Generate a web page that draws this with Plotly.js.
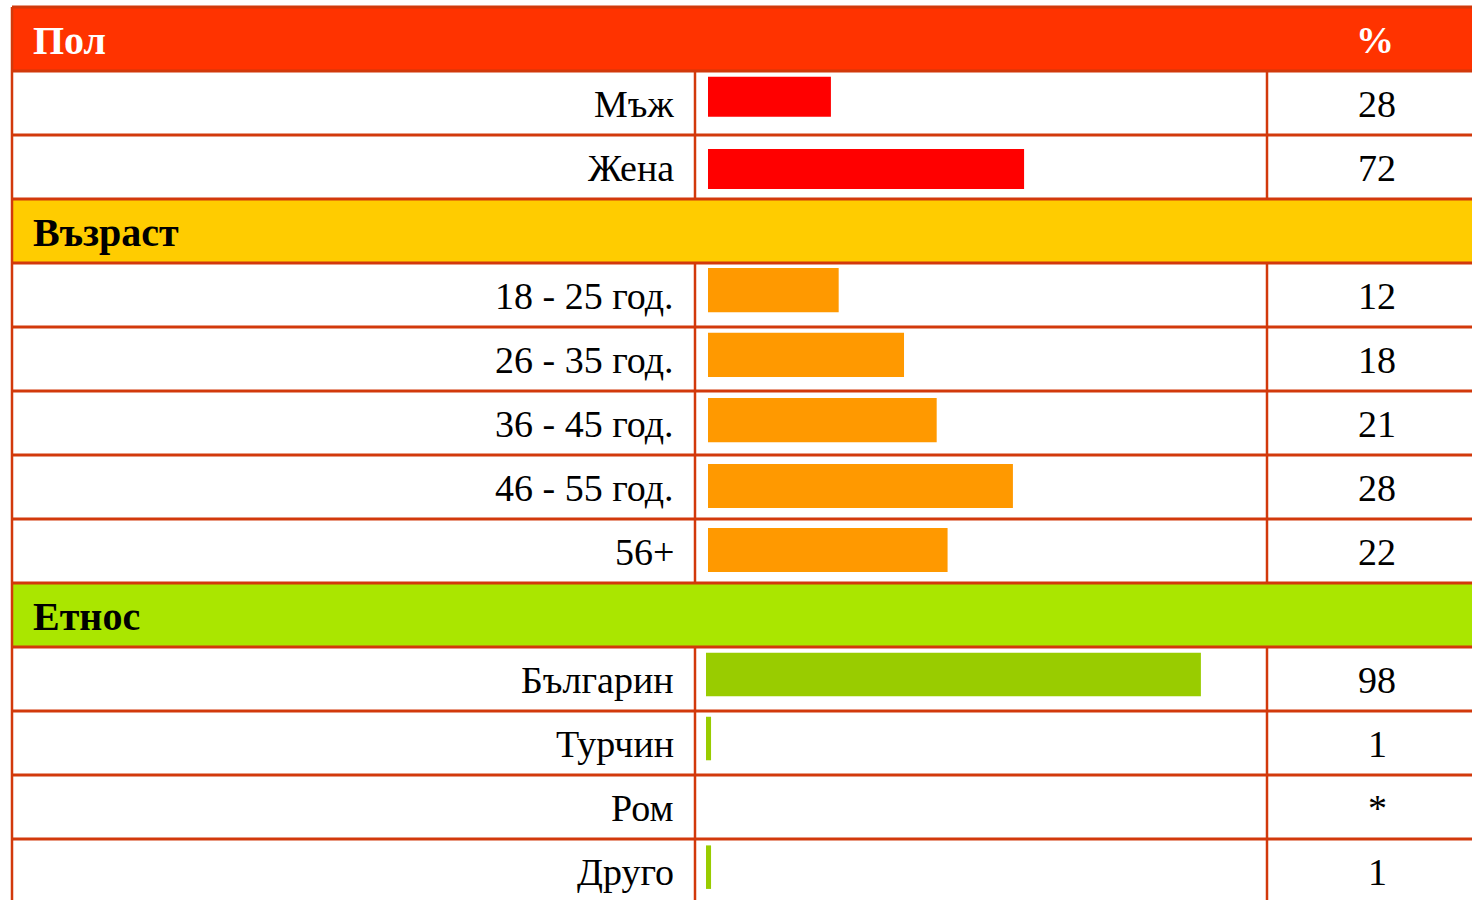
<!DOCTYPE html>
<html>
<head>
<meta charset="utf-8">
<script src="https://cdn.plot.ly/plotly-3.0.1.min.js"></script>
<style>
  html, body { margin: 0; padding: 0; background: #ffffff; }
  #chart { width: 1472px; height: 900px; }
</style>
</head>
<body>
<div id="chart"></div>
<script>
// ---- data ----
var sectionTitles = ["Пол", "Възраст", "Етнос"];
var valueHeader = "%";

var genderLabels = ["Мъж", "Жена"];
var genderValues = [28, 72];
var genderText = ["28", "72"];

var ageLabels = ["18 - 25 год.", "26 - 35 год.", "36 - 45 год.", "46 - 55 год.", "56+"];
var ageValues = [12, 18, 21, 28, 22];
var ageText = ["12", "18", "21", "28", "22"];

var ethnosLabels = ["Българин", "Турчин", "Ром", "Друго"];
var ethnosValues = [98, 1, null, 1];
var ethnosText = ["98", "1", "*", "1"];

// ---- layout / style constants ----
var W = 1472, H = 900;
var ROW = 64, TOP = 7;
var LEFT_X = 12, COL1_X = 695, COL2_X = 1267;
var LINE_COLOR = "#D2390B";
var FONT = "Liberation Serif, Times New Roman, serif";

var sections = [
  {title: sectionTitles[0], labels: genderLabels, values: genderValues, text: genderText,
   fill: "#FF3300", titleColor: "#ffffff", bar: "#FF0000", axis: "x", barStart: 708, perUnit: 4.39,
   width: 0.625, offsets: [-0.41, -0.28]},
  {title: sectionTitles[1], labels: ageLabels, values: ageValues, text: ageText,
   fill: "#FFCC00", titleColor: "#000000", bar: "#FF9900", axis: "x2", barStart: 708, perUnit: 10.89,
   width: 0.69, offsets: [-0.42, -0.41, -0.39, -0.36, -0.36]},
  {title: sectionTitles[2], labels: ethnosLabels, values: ethnosValues, text: ethnosText,
   fill: "#AAE600", titleColor: "#000000", bar: "#99CC00", axis: "x3", barStart: 706, perUnit: 5.05,
   width: 0.68, offsets: [-0.41, -0.41, -0.41, -0.40]}
];

function px(x) { return x / W; }

var traces = [], shapes = [], annotations = [];
var row = 0;
var dataRows = [];

sections.forEach(function (s, si) {
  // section header row
  shapes.push({type: "rect", layer: "below", xref: "paper", yref: "y",
    x0: px(LEFT_X), x1: 1, y0: row - 0.5, y1: row + 0.5,
    fillcolor: s.fill, line: {width: 0}});
  annotations.push({xref: "paper", yref: "y", x: px(31), y: row + 0.02, xanchor: "left", yanchor: "middle",
    text: "<b>" + s.title + "</b>", showarrow: false,
    font: {family: FONT, size: 40, color: s.titleColor}});
  if (si === 0) {
    annotations.push({xref: "paper", yref: "y", x: px(1375), y: row + 0.02, xanchor: "center", yanchor: "middle",
      text: "<b>" + valueHeader + "</b>", showarrow: false,
      font: {family: FONT, size: 38, color: "#ffffff"}});
  }
  row++;
  var ys = [];
  s.labels.forEach(function (lab, i) {
    ys.push(row);
    dataRows.push(row);
    annotations.push({xref: "paper", yref: "y", x: px(676), y: row + 0.02, xanchor: "right", yanchor: "middle",
      text: lab, showarrow: false, font: {family: FONT, size: 38, color: "#000000"}});
    annotations.push({xref: "paper", yref: "y", x: px(1377), y: row + 0.02, xanchor: "center", yanchor: "middle",
      text: s.text[i], showarrow: false, font: {family: FONT, size: 38, color: "#000000"}});
    row++;
  });
  traces.push({
    type: "bar", orientation: "h", x: s.values, y: ys,
    xaxis: s.axis, yaxis: "y",
    width: s.width, offset: s.offsets,
    marker: {color: s.bar, line: {width: 0}},
    hoverinfo: "skip", showlegend: false
  });
});

var totalRows = row;

// horizontal lines
for (var r = 0; r <= totalRows; r++) {
  shapes.push({type: "line", layer: "above", xref: "paper", yref: "y",
    x0: px(LEFT_X), x1: 1, y0: r - 0.5, y1: r - 0.5,
    line: {color: LINE_COLOR, width: 3}});
}
// left border
shapes.push({type: "line", layer: "above", xref: "paper", yref: "y",
  x0: px(LEFT_X), x1: px(LEFT_X), y0: -0.5, y1: totalRows - 0.5,
  line: {color: LINE_COLOR, width: 2.5}});
// column separators in data rows
dataRows.forEach(function (r) {
  [COL1_X, COL2_X].forEach(function (cx) {
    shapes.push({type: "line", layer: "above", xref: "paper", yref: "y",
      x0: px(cx), x1: px(cx), y0: r - 0.5, y1: r + 0.5,
      line: {color: LINE_COLOR, width: 2.5}});
  });
});

function hiddenAxis(extra) {
  var a = {showgrid: false, zeroline: false, showticklabels: false, showline: false, ticks: "", fixedrange: true};
  for (var k in extra) a[k] = extra[k];
  return a;
}

var layout = {
  width: W, height: H,
  margin: {l: 0, r: 0, t: 0, b: 0, pad: 0},
  paper_bgcolor: "#ffffff", plot_bgcolor: "rgba(0,0,0,0)",
  showlegend: false,
  barmode: "overlay",
  xaxis: hiddenAxis({domain: [px(sections[0].barStart), px(COL2_X)], range: [0, (COL2_X - sections[0].barStart) / sections[0].perUnit], anchor: "y"}),
  xaxis2: hiddenAxis({domain: [px(sections[1].barStart), px(COL2_X)], range: [0, (COL2_X - sections[1].barStart) / sections[1].perUnit], anchor: "y"}),
  xaxis3: hiddenAxis({domain: [px(sections[2].barStart), px(COL2_X)], range: [0, (COL2_X - sections[2].barStart) / sections[2].perUnit], anchor: "y"}),
  yaxis: hiddenAxis({domain: [0, 1], range: [(H - TOP - ROW / 2) / ROW, -(TOP + ROW / 2) / ROW], anchor: "x"}),
  shapes: shapes,
  annotations: annotations
};

Plotly.newPlot("chart", traces, layout, {displayModeBar: false, staticPlot: true});
</script>
</body>
</html>
